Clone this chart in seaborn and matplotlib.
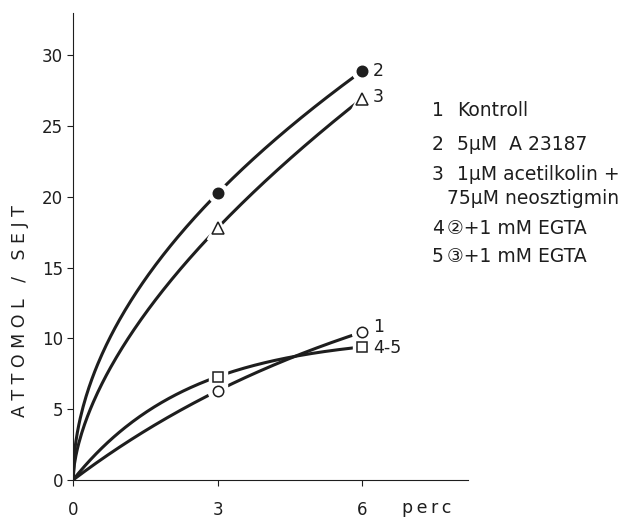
#!/usr/bin/env python3
"""Attomol / sejt vs. time (perc) - smooth uptake curves for five conditions."""

import matplotlib
matplotlib.use("Agg")
import matplotlib.pyplot as plt
import numpy as np
import pandas as pd
import seaborn as sns

# --- data ------------------------------------------------------------------
perc = [0, 3, 6]
kontroll = [0, 6.3, 10.45]        # 1
a23187 = [0, 20.25, 28.9]         # 2
acetilkolin = [0, 17.8, 26.95]    # 3
egta = [0, 7.3, 9.4]              # 4-5

series_labels = ["2", "3", "1", "4-5"]
x_ticks = [0, 3, 6]
y_ticks = [0, 5, 10, 15, 20, 25, 30]

legend_nums = ["1", "2", "3", "", "4", "5"]
legend_texts = [
    "Kontroll",
    "5\u03bcM  A 23187",
    "1\u03bcM acetilkolin +",
    "75\u03bcM neosztigmin",
    "\u2461+1 mM EGTA",
    "\u2462+1 mM EGTA",
]

INK = "#1e1e1e"


def _smooth(xs, ys, shape, n=200):
    """Hand-drawn-like curve through the origin and the two measured points."""
    xs = np.asarray(xs, dtype=float)
    ys = np.asarray(ys, dtype=float)
    xd = np.linspace(0, xs[-1], n)
    if shape == "power":
        b = np.log(ys[2] / ys[1]) / np.log(xs[2] / xs[1])
        a = ys[1] / xs[1] ** b
        return xd, a * xd ** b
    # saturating: y = A * (1 - exp(-k x)), points at x and 2x
    q = ys[2] / ys[1] - 1.0
    k = -np.log(q) / xs[1]
    A = ys[1] / (1 - q)
    return xd, A * (1 - np.exp(-k * xd))


def main() -> None:
    sns.set_theme(style="ticks")
    plt.rcParams["font.family"] = ["DejaVu Sans", "Noto Sans CJK JP"]

    fig = plt.figure(figsize=(6.32, 5.18), dpi=100)
    ax = fig.add_axes([0.1155, 0.0734, 0.625, 0.9015])

    # values, marker, size, face, curve shape, label offset (pt)
    specs = [
        (a23187, "o", 7.5, INK, "power", (8, 0)),
        (acetilkolin, "^", 8.5, "white", "power", (8, 1)),
        (kontroll, "o", 7.5, "white", "saturating", (8, 4)),
        (egta, "s", 6.5, "white", "saturating", (8, -1)),
    ]

    for (vals, mk, ms, face, shape, off), lab in zip(specs, series_labels):
        xd, yd = _smooth(perc, vals, shape)
        curve = pd.DataFrame({"perc": xd, "attomol": yd})
        sns.lineplot(data=curve, x="perc", y="attomol", ax=ax, color=INK,
                     linewidth=2.2, zorder=2)
        pts_x = perc[1:]
        pts_y = vals[1:]
        # white halo so the line breaks around each marker, as in the print
        ax.plot(pts_x, pts_y, ls="none", marker=mk, markersize=ms + 7,
                markerfacecolor="white", markeredgecolor="white", zorder=3)
        ax.plot(pts_x, pts_y, ls="none", marker=mk, markersize=ms,
                markerfacecolor=face, markeredgecolor=INK,
                markeredgewidth=1.1, zorder=4)
        ax.annotate(lab, (perc[-1], vals[-1]), xytext=off,
                    textcoords="offset points", ha="left", va="center",
                    fontsize=12.5, color=INK)

    ax.set_xlim(0, 8.2)
    ax.set_ylim(0, 33)
    ax.set_xticks(x_ticks)
    ax.set_yticks(y_ticks)
    ax.tick_params(axis="both", labelsize=12, colors=INK, width=0.8)
    ax.tick_params(axis="x", length=4, pad=11)
    ax.tick_params(axis="y", length=4, pad=3)
    sns.despine(ax=ax)
    for side in ("left", "bottom"):
        ax.spines[side].set_linewidth(0.8)
        ax.spines[side].set_color(INK)

    ax.set_xlabel("p\u2009e\u2009r\u2009c", fontsize=12.5, color=INK,
                  ha="left", va="center")
    ax.xaxis.set_label_coords(0.833, -0.06)
    ax.set_ylabel("A T T O M O L   /   S E J T", fontsize=12.5, color=INK,
                  va="center")
    ax.yaxis.set_label_coords(-0.134, 0.362)

    # hand-lettered key to the right of the plot
    rows_y = [110, 144, 175, 198, 228, 257]
    for num, txt, py in zip(legend_nums, legend_texts, rows_y):
        yf = 1 - py / 518
        if num:
            fig.text(432 / 632, yf, num, fontsize=13.5, color=INK, va="center")
        tx = 447 if txt.startswith(("\u2461", "\u2462", "75")) else 457
        fig.text(tx / 632, yf, txt, fontsize=13.5, color=INK, va="center")

    fig.savefig("out.png", dpi=100)
    plt.close(fig)


if __name__ == "__main__":
    main()
